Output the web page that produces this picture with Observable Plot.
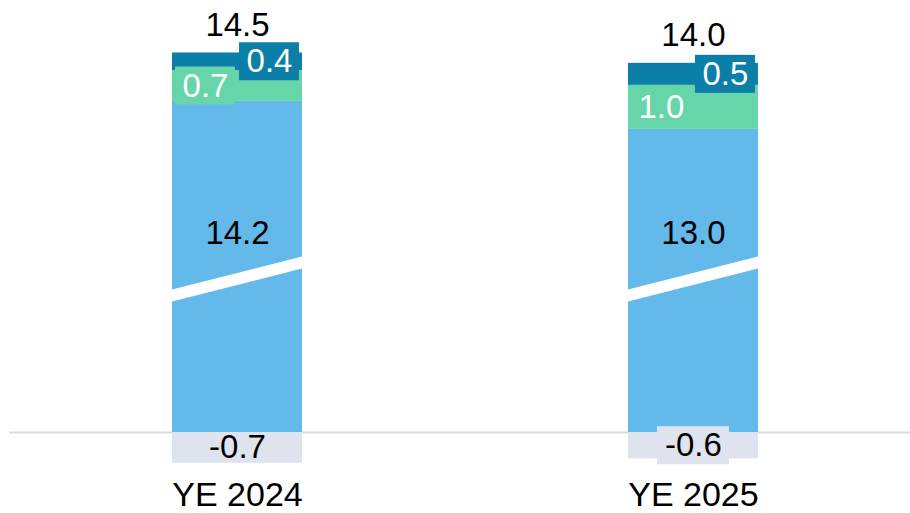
<!DOCTYPE html>
<html><head><meta charset="utf-8">
<script src="https://cdn.jsdelivr.net/npm/d3@7"></script>
<script src="https://cdn.jsdelivr.net/npm/@observablehq/plot@0.6"></script>
<style>body{margin:0;background:#fff;} #chart svg{display:block;}</style>
</head><body><div id="chart"></div>
<script>
// ---- data ----
const categories = ["YE 2024", "YE 2025"];
const mainValues = [14.2, 13.0];
const greenValues = [0.7, 1.0];
const topValues = [0.4, 0.5];
const negativeValues = [-0.7, -0.6];
const totalValues = [14.5, 14.0];

// ---- layout constants ----
const W = 910, H = 513;
const marginLeft = 9, marginRight = 0, marginBottom = 32;
const xDomain = [-0.5, 1.476];
const unitPerPxX = (xDomain[1] - xDomain[0]) / (W - marginLeft - marginRight);
const zeroPx = 432, pxPerUnit = 44;
const yDomain = [-1.5, 9.5];
const compress = 0.53;            // axis break: main segment drawn compressed
const barHalf = 65 * unitPerPxX;  // half bar width
const breakLeft = 3.1, breakRight = 3.85; // break band centre (display units)
const breakHalf = 6 / pxPerUnit;
const mainLabelY = 4.52;
const fmt = v => v.toFixed(1);
const C = {main: "#63b9e9", green: "#66d5a9", top: "#0b7fa8", neg: "#dfe3ee", grid: "#dcdcdc"};

const rows = categories.map((c, i) => {
  const b = mainValues[i] * compress;
  const g = b + greenValues[i];
  const t = g + topValues[i];
  return {i, c, b, g, t, neg: negativeValues[i], main: mainValues[i], green: greenValues[i], top: topValues[i], total: totalValues[i]};
});
const breakPts = rows.flatMap(d => [
  {i: d.i, x: d.i - barHalf, y: breakLeft},
  {i: d.i, x: d.i + barHalf, y: breakRight}
]);

const font = "Liberation Sans, Arial, Helvetica, sans-serif";
const fs = 33;
const labelOff = 32 * unitPerPxX;
const boxHalfW = 30 * unitPerPxX, boxHalfH = 19 / pxPerUnit;
const negBoxHalfW = 36 * unitPerPxX;
const negBoxed = rows.filter(d => Math.abs(d.neg) * pxPerUnit < 28);

const chart = Plot.plot({
  width: W, height: H,
  marginLeft, marginRight, marginTop: 0, marginBottom,
  style: {fontFamily: font, background: "#fff"},
  x: {domain: xDomain, axis: null},
  y: {domain: yDomain, range: [zeroPx - yDomain[0] * pxPerUnit, zeroPx - yDomain[1] * pxPerUnit], axis: null},
  marks: [
    Plot.ruleY([0], {stroke: C.grid, strokeWidth: 2}),
    Plot.rect(rows, {x1: d => d.i - barHalf, x2: d => d.i + barHalf, y1: d => d.neg, y2: 0, fill: C.neg}),
    Plot.rect(rows, {x1: d => d.i - barHalf, x2: d => d.i + barHalf, y1: 0, y2: d => d.b, fill: C.main}),
    Plot.rect(rows, {x1: d => d.i - barHalf, x2: d => d.i + barHalf, y1: d => d.b, y2: d => d.g, fill: C.green}),
    Plot.rect(rows, {x1: d => d.i - barHalf, x2: d => d.i + barHalf, y1: d => d.g, y2: d => d.t, fill: C.top}),
    // axis break
    Plot.areaY(breakPts, {x: "x", y1: d => d.y - breakHalf, y2: d => d.y + breakHalf, z: "i", fill: "#fff"}),
    // label boxes
    Plot.rect(rows, {x1: d => d.i + labelOff - boxHalfW, x2: d => d.i + labelOff + boxHalfW,
      y1: d => (d.g + d.t) / 2 - boxHalfH, y2: d => (d.g + d.t) / 2 + boxHalfH, fill: C.top}),
    Plot.rect(rows, {x1: d => d.i - labelOff - boxHalfW, x2: d => d.i - labelOff + boxHalfW,
      y1: d => (d.b + d.g) / 2 - boxHalfH, y2: d => (d.b + d.g) / 2 + boxHalfH, fill: C.green}),
    Plot.rect(negBoxed, {x1: d => d.i - negBoxHalfW, x2: d => d.i + negBoxHalfW,
      y1: d => d.neg / 2 - boxHalfH, y2: d => d.neg / 2 + boxHalfH, fill: C.neg}),
    // labels
    Plot.text(rows, {x: "i", y: d => d.t, text: d => fmt(d.total), dy: -28, fontSize: fs, fill: "#000", lineAnchor: "middle"}),
    Plot.text(rows, {x: "i", y: mainLabelY, text: d => fmt(d.main), fontSize: fs, fill: "#000", lineAnchor: "middle"}),
    Plot.text(rows, {x: d => d.i + labelOff, y: d => (d.g + d.t) / 2, text: d => fmt(d.top), fontSize: fs, fill: "#fff", lineAnchor: "middle"}),
    Plot.text(rows, {x: d => d.i - labelOff, y: d => (d.b + d.g) / 2, text: d => fmt(d.green), fontSize: fs, fill: "#fff", lineAnchor: "middle"}),
    Plot.text(rows, {x: "i", y: d => d.neg / 2, text: d => fmt(d.neg), fontSize: fs, fill: "#000", lineAnchor: "middle"}),
    Plot.text(rows, {x: "i", frameAnchor: "bottom", text: "c", fontSize: 34, fill: "#000", lineAnchor: "top"})
  ]
});
document.getElementById("chart").append(chart);
</script>
</body></html>
